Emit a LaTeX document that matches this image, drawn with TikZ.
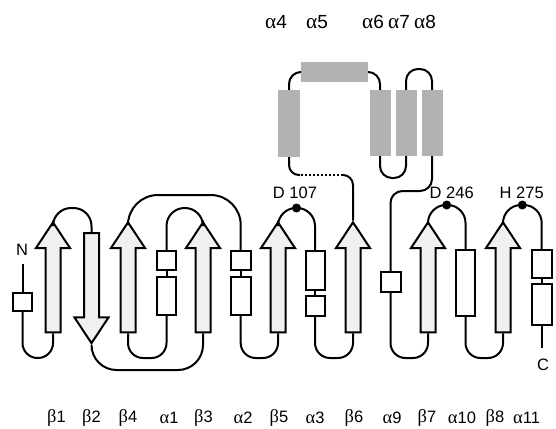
\documentclass[tikz,border=0pt]{standalone}
\usepackage{fontspec}
\setmainfont{Liberation Sans}
\newfontfamily\greekfont[Scale=1.12]{Liberation Serif}
\usepackage{tikz}
\usetikzlibrary{shapes.arrows}

\newcommand{\helixlbl}[1]{{\greekfont α}#1}
\newcommand{\strandlbl}[1]{{\greekfont β}#1}

\begin{document}
\begin{tikzpicture}[x=1pt,y=-1pt,
    link/.style={line width=2pt},
    strand/.style={single arrow, draw, line width=2pt, fill=gray!12,
        minimum width=32pt, minimum height=110pt, inner xsep=0pt, inner ysep=6.5pt,
        single arrow head extend=9.5pt, single arrow tip angle=67,
        single arrow head indent=0pt},
    helix/.style={draw, line width=2pt, fill=white, minimum width=19pt, inner sep=0pt},
    dhelix/.style={fill=gray!60, minimum width=21pt, inner sep=0pt},
    site/.style={circle, fill=black, minimum size=9pt, inner sep=0pt},
    lbl/.style={font=\fontsize{16.5}{19}\selectfont, inner sep=0pt},
    toplbl/.style={font=\fontsize{19}{22}\selectfont, inner sep=0pt}]

\useasboundingbox (0,0) rectangle (556,428);

% Strands
\foreach \n/\x in {b1/53,b4/128,b3/203,b5/278,b6/353,b7/428,b8/503}{
    \node[strand,rotate=90] (\n) at (\x,283) {};
}
\node[strand,rotate=-90] (b2) at (91.5,282.5) {};

% Helices
\node[helix,minimum height=18pt] (a0) at (22.5,302) {};
\node[helix,minimum height=19pt] (a1a) at (166.5,260.5) {};
\node[helix,minimum height=38pt] (a1b) at (166.5,296) {};
\node[helix,minimum height=19pt,minimum width=20pt] (a2a) at (240.7,260.5) {};
\node[helix,minimum height=38pt,minimum width=20pt] (a2b) at (240.7,296) {};
\node[helix,minimum height=39pt] (a3a) at (315,270.5) {};
\node[helix,minimum height=20pt] (a3b) at (315,306) {};
\node[helix,minimum height=20pt,minimum width=20pt] (a9) at (390.5,282) {};
\node[helix,minimum height=66pt] (a10) at (465.5,283) {};
\node[helix,minimum height=28pt,minimum width=20pt] (a11a) at (541.7,264) {};
\node[helix,minimum height=41pt,minimum width=20pt] (a11b) at (541.7,304.5) {};

% Inserted domain
\node[dhelix,minimum height=67pt,minimum width=22pt] (a4) at (289,123.5) {};
\node[dhelix,minimum height=20pt,minimum width=67pt] (a5) at (334.5,72) {};
\foreach \n/\x in {a6/380,a7/406,a8/432}{
    \node[dhelix,minimum height=66pt] (\n) at (\x,123) {};
}

% Termini
\node[lbl] (nt) at (22,250) {N};
\node[lbl] (ct) at (543,365) {C};
\draw[link] (a0.north |- 0,264) -- (a0.north);
\draw[link] (a11b.south) -- (a11b.south |- 0,348);

% Loops below
\foreach \p/\q in {a0.south/b1.tail,b4.tail/a1b.south,a2b.south/b5.tail,
                   a3b.south/b6.tail,a9.south/b7.tail,a10.south/b8.tail}{
    \draw[link,rounded corners=15pt]
        (\p) -- (\p |- 0,358) -- (\q |- 0,358) -- (\q);
}
\draw[link,rounded corners=25pt]
    (b2.tip) -- (b2.tip |- 0,370) -- (b3.tail |- 0,370) -- (b3.tail);

% Loops above
\foreach \p/\q/\y in {b1.tip/b2.tail/208,a1a.north/b3.tip/208,b5.tip/a3a.north/208,
                      b7.tip/a10.north/205,b8.tip/a11a.north/205}{
    \draw[link,rounded corners=18pt]
        (\p) -- (\p |- 0,\y) -- (\q |- 0,\y) -- (\q);
}
\draw[link,rounded corners=30pt]
    (b4.tip) -- (b4.tip |- 0,195) -- (a2a.north |- 0,195) -- (a2a.north);

% Split helices
\foreach \p/\q in {a1a/a1b,a2a/a2b,a3a/a3b,a11a/a11b}{
    \draw[link] (\p.south) -- (\q.north);
}

% Inserted domain links
\coordinate (g1) at (343,175);
\coordinate (g2) at (300,175);
\draw[link,rounded corners=10pt] (b6.tip) |- (g1);
\draw[link,dotted] (g1) -- (g2);
\draw[link,rounded corners=10pt] (g2) -| (a4.south);
\draw[link,rounded corners=12pt] (a4.north) |- (a5.west);
\draw[link,rounded corners=12pt] (a5.east) -| (a6.north);
\draw[link,rounded corners=12pt]
    (a6.south) -- (a6.south |- 0,178) -- (a7.south |- 0,178) -- (a7.south);
\draw[link,rounded corners=12pt]
    (a7.north) -- (a7.north |- 0,69) -- (a8.north |- 0,69) -- (a8.north);
\draw[link,rounded corners=12pt]
    (a8.south) -- (a8.south |- 0,191) -- (a9.north |- 0,191) -- (a9.north);

% Active site residues
\node[site] (s107) at (296.5,208) {};
\node[site] (s246) at (446.7,205) {};
\node[site] (s275) at (522.3,205) {};
\node[lbl] (l107) at (295,193) {D 107};
\node[lbl] (l246) at (451.7,193) {D 246};
\node[lbl] (l275) at (521.7,193) {H 275};

% Element labels
\foreach \n/\x in {4/276,5/317,6/373,7/399,8/425}{
    \node[toplbl] (t\n) at (\x,22) {\helixlbl{\n}};
}
\foreach \n/\x/\t in {1/56.5/\strandlbl{1},2/91.5/\strandlbl{2},3/128/\strandlbl{4},
                      4/169/\helixlbl{1},5/203.5/\strandlbl{3},6/243/\helixlbl{2},
                      7/279/\strandlbl{5},8/315/\helixlbl{3},9/354/\strandlbl{6},
                      10/392/\helixlbl{9},11/427/\strandlbl{7},12/462/\helixlbl{10},
                      13/495/\strandlbl{8}}{
    \node[lbl] (b\n) at (\x,418) {\t};
}
\node[lbl,anchor=west] (b14) at (513,418) {\helixlbl{11}};

\end{tikzpicture}
\end{document}
